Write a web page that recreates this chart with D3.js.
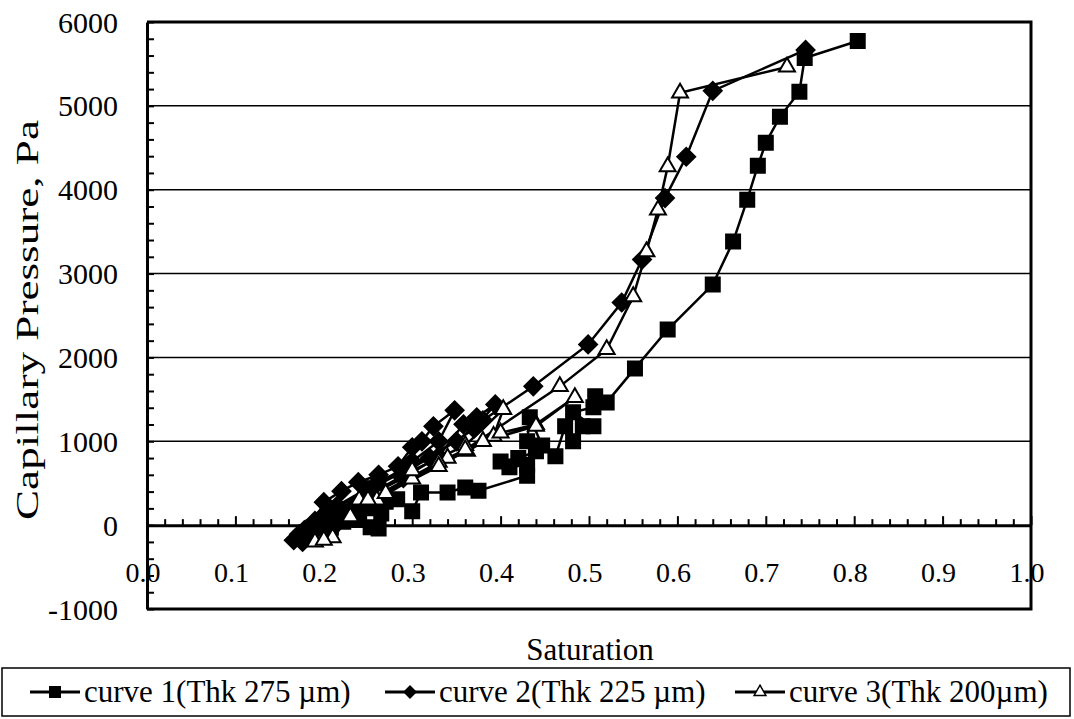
<!DOCTYPE html>
<html>
<head>
<meta charset="utf-8">
<script src="https://cdn.jsdelivr.net/npm/d3@7"></script>
<style>
  body { margin: 0; background: #fff; }
  text { font-family: "Liberation Serif", "Times New Roman", serif; fill: #000; }
</style>
</head>
<body>
<div id="chart"></div>
<script>
// saturation / capillary pressure (Pa), in measurement order
var curve1 = [
    [0.262, -40], [0.253, -24], [0.222, 40], [0.208, -30], [0.215, 80], [0.228, 120],
    [0.240, 60], [0.236, 190], [0.252, 200], [0.265, 140], [0.270, 280], [0.283, 310],
    [0.300, 167], [0.310, 390], [0.340, 390], [0.360, 450], [0.375, 410], [0.430, 590],
    [0.430, 720], [0.410, 690], [0.400, 760], [0.420, 800], [0.440, 880], [0.430, 1000],
    [0.433, 1286], [0.447, 950], [0.462, 821], [0.473, 1179], [0.482, 1000], [0.493, 1179],
    [0.505, 1180], [0.482, 1345], [0.505, 1405], [0.507, 1536], [0.520, 1464], [0.552, 1869],
    [0.589, 2333], [0.640, 2869], [0.663, 3381], [0.679, 3881], [0.691, 4286], [0.700, 4560],
    [0.716, 4869], [0.738, 5167], [0.744, 5571], [0.804, 5774]
];
var curve2 = [
    [0.166, -180], [0.176, -200], [0.185, -120], [0.172, -110], [0.178, -60], [0.190, 50],
    [0.200, 274], [0.220, 405], [0.239, 512], [0.262, 600], [0.284, 702], [0.300, 929],
    [0.311, 1000], [0.324, 1179], [0.348, 1369], [0.330, 1000], [0.300, 760], [0.250, 400],
    [0.205, 100], [0.180, -100], [0.192, -40], [0.210, 150], [0.250, 350], [0.290, 560],
    [0.330, 820], [0.358, 1202], [0.373, 1286], [0.394, 1440], [0.370, 1150], [0.320, 800],
    [0.250, 420], [0.200, 120], [0.215, 230], [0.260, 500], [0.350, 1000], [0.380, 1250],
    [0.437, 1655], [0.499, 2155], [0.537, 2655], [0.560, 3167], [0.586, 3900], [0.610, 4393],
    [0.640, 5179], [0.745, 5667]
];
var curve3 = [
    [0.190, -200], [0.210, -150], [0.230, 100], [0.260, 300], [0.300, 550], [0.340, 800],
    [0.362, 881], [0.392, 1060], [0.403, 1381], [0.360, 950], [0.300, 650], [0.240, 300],
    [0.200, -180], [0.250, 300], [0.330, 750], [0.400, 1100], [0.440, 1202], [0.484, 1524],
    [0.440, 1180], [0.380, 1000], [0.330, 700], [0.270, 380], [0.360, 900], [0.467, 1655],
    [0.520, 2095], [0.550, 2726], [0.565, 3260], [0.578, 3760], [0.589, 4274], [0.603, 5155],
    [0.724, 5464]
];

var seriesNames = ["curve 1(Thk 275 \u00b5m)", "curve 2(Thk 225 \u00b5m)", "curve 3(Thk 200\u00b5m)"];
var xTicks = [0, 0.1, 0.2, 0.3, 0.4, 0.5, 0.6, 0.7, 0.8, 0.9, 1.0];
var yTicks = [-1000, 0, 1000, 2000, 3000, 4000, 5000, 6000];

var width = 1074;
var height = 719;
var plotLeft = 147, plotRight = 1031, plotTop = 22, plotBottom = 609;

var svg = d3.select("#chart").append("svg")
    .attr("width", width)
    .attr("height", height);

var xScale = d3.scaleLinear().domain([0, 1]).range([plotLeft, plotRight]);
var yScale = d3.scaleLinear().domain([-1000, 6000]).range([plotBottom, plotTop]);

// gridlines
svg.append("g")
    .selectAll("line")
    .data(yTicks.filter(function (d) { return d > 0 && d < 6000; }))
    .join("line")
    .attr("x1", plotLeft).attr("x2", plotRight)
    .attr("y1", function (d) { return yScale(d); })
    .attr("y2", function (d) { return yScale(d); })
    .attr("stroke", "#000")
    .attr("stroke-width", 1.5);

// frame: top, right and bottom edges
svg.append("path")
    .attr("d", "M" + plotLeft + "," + plotTop + "H" + plotRight + "V" + plotBottom + "H" + plotLeft)
    .attr("fill", "none")
    .attr("stroke", "#000")
    .attr("stroke-width", 3);

// y axis with minor ticks pointing in
var yAxis = svg.append("g")
    .attr("transform", "translate(" + plotLeft + ",0)")
    .call(d3.axisRight(yScale).tickValues(d3.range(-1000, 6001, 200)).tickSize(7).tickSizeOuter(0).tickFormat(""));
yAxis.select(".domain").attr("stroke-width", 3);
yAxis.selectAll(".tick line").attr("stroke-width", 2);

svg.append("g")
    .selectAll("text")
    .data(yTicks)
    .join("text")
    .attr("x", 118)
    .attr("y", function (d) { return yScale(d); })
    .attr("dy", "0.35em")
    .attr("text-anchor", "end")
    .style("font-size", "30px")
    .text(function (d) { return d; });

// x axis sits on zero, ticks pointing up
var xAxis = svg.append("g")
    .attr("transform", "translate(0," + yScale(0) + ")")
    .call(d3.axisTop(xScale).tickValues(d3.range(0, 1.001, 0.02)).tickSize(6).tickSizeOuter(0).tickFormat(""));
xAxis.select(".domain").attr("stroke-width", 3);
xAxis.selectAll(".tick line").attr("stroke-width", 2)
    .attr("y2", function (d) { return Math.abs(d * 10 - Math.round(d * 10)) < 1e-6 ? -9 : -6; });

svg.append("g")
    .selectAll("text")
    .data(xTicks)
    .join("text")
    .attr("x", function (d) { return xScale(d) - 4; })
    .attr("y", 582)
    .attr("text-anchor", "middle")
    .style("font-size", "28px")
    .text(function (d) { return d.toFixed(1); });

// axis titles
svg.append("text")
    .attr("transform", "translate(38," + 320 + ") rotate(-90)")
    .attr("text-anchor", "middle")
    .style("font-size", "31px")
    .attr("textLength", 400)
    .attr("lengthAdjust", "spacingAndGlyphs")
    .text("Capillary Pressure, Pa");

svg.append("text")
    .attr("x", 590)
    .attr("y", 660)
    .attr("text-anchor", "middle")
    .style("font-size", "31px")
    .text("Saturation");

// series
var line = d3.line()
    .x(function (d) { return xScale(d[0]); })
    .y(function (d) { return yScale(d[1]); });

var symSquare = d3.symbol().type(d3.symbolSquare).size(196);
var symDiamond = d3.symbol().type(d3.symbolSquare).size(160);
var symTriangle = d3.symbol().type(d3.symbolTriangle).size(110);

function drawSeries(data, sym, fill, rot) {
    svg.append("path")
        .datum(data)
        .attr("fill", "none")
        .attr("stroke", "#000")
        .attr("stroke-width", 2.5)
        .attr("d", line);
    svg.append("g")
        .selectAll("path")
        .data(data)
        .join("path")
        .attr("transform", function (d) {
            return "translate(" + xScale(d[0]) + "," + yScale(d[1]) + ") rotate(" + rot + ")";
        })
        .attr("d", sym)
        .attr("fill", fill)
        .attr("stroke", "#000")
        .attr("stroke-width", 2);
}

drawSeries(curve1, symSquare, "#000", 0);
drawSeries(curve2, symDiamond, "#000", 45);
drawSeries(curve3, symTriangle, "#fff", 0);

// legend
var legend = svg.append("g");
legend.append("rect")
    .attr("x", 2).attr("y", 668)
    .attr("width", 1068).attr("height", 48)
    .attr("fill", "#fff")
    .attr("stroke", "#000")
    .attr("stroke-width", 1.5);

var legendX = [30, 385, 735];
var legendSyms = [
    d3.symbol().type(d3.symbolSquare).size(110),
    d3.symbol().type(d3.symbolSquare).size(70),
    d3.symbol().type(d3.symbolTriangle).size(60)
];
var legendRot = [0, 45, 0];
var legendFill = ["#000", "#000", "#fff"];

seriesNames.forEach(function (name, i) {
    var g = legend.append("g").attr("transform", "translate(" + legendX[i] + ",692)");
    g.append("line").attr("x1", 0).attr("x2", 50).attr("stroke", "#000").attr("stroke-width", 3);
    g.append("path").attr("transform", "translate(25,0) rotate(" + legendRot[i] + ")").attr("d", legendSyms[i])
        .attr("fill", legendFill[i]).attr("stroke", "#000").attr("stroke-width", 1.5);
    g.append("text").attr("x", 54).attr("y", 10).style("font-size", "31px").text(name);
});
</script>
</body>
</html>
